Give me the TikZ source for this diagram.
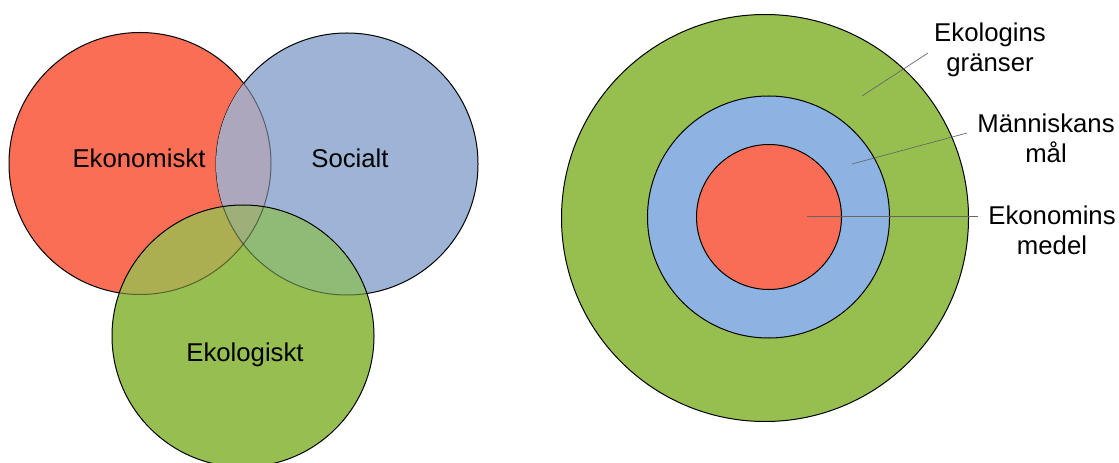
\documentclass[tikz,border=0pt]{standalone}
\usepackage{fontspec}
\setmainfont{Liberation Sans}

\definecolor{ekored}{RGB}{250,110,85}
\definecolor{socblue}{RGB}{157,180,214}
\definecolor{ekogreen}{RGB}{150,190,80}
\definecolor{redblue}{RGB}{173,167,189}
\definecolor{redgreen}{RGB}{172,174,82}
\definecolor{bluegreen}{RGB}{143,187,118}
\definecolor{allthree}{RGB}{157,176,122}
\definecolor{ringgreen}{RGB}{150,191,79}
\definecolor{ringblue}{RGB}{141,179,226}
\definecolor{ringred}{RGB}{249,109,86}

\begin{document}
\begin{tikzpicture}[
        x=0.75pt, y=-0.75pt,
        every node/.style={font=\fontsize{19.3}{22.5}\selectfont, inner sep=0pt},
        rim/.style={draw=black, line width=0.75pt},
        faintrim/.style={draw=black, draw opacity=0.45, line width=0.75pt},
        leader/.style={draw=black!60, line width=0.5pt}
    ]
      \useasboundingbox (0,0) rectangle (1119,463);

      % Venn diagram
      \coordinate (eko) at (140,163.5);
      \coordinate (soc) at (347,164);
      \coordinate (ekol) at (243,336);
      \def\vennr{131}

      \filldraw[rim, fill=ekored] (eko) circle[radius=\vennr];
      \filldraw[rim, fill=socblue] (soc) circle[radius=\vennr];
      \begin{scope}
        \clip (soc) circle[radius=\vennr];
        \fill[redblue] (eko) circle[radius=\vennr];
        \draw[faintrim] (eko) circle[radius=\vennr];
      \end{scope}
      \fill[ekogreen] (ekol) circle[radius=\vennr];
      \begin{scope}
        \clip (ekol) circle[radius=\vennr];
        \fill[redgreen] (eko) circle[radius=\vennr];
        \fill[bluegreen] (soc) circle[radius=\vennr];
        \begin{scope}
          \clip (eko) circle[radius=\vennr];
          \fill[allthree] (soc) circle[radius=\vennr];
        \end{scope}
        \draw[faintrim] (eko) circle[radius=\vennr];
        \draw[faintrim] (soc) circle[radius=\vennr];
      \end{scope}
      \draw[rim] (ekol) circle[radius=\vennr];

      \node[anchor=base] (ekonomiskt) at (139,167.3) {Ekonomiskt};
      \node[anchor=base] (socialt) at (350,167.3) {Socialt};
      \node[anchor=base] (ekologiskt) at (245,361.7) {Ekologiskt};

      % Concentric circles
      \filldraw[rim, fill=ringgreen] (765,218) circle[radius=203.5];
      \filldraw[rim, fill=ringblue] (768.5,217) circle[radius=121];
      \filldraw[rim, fill=ringred] (769,217) circle[radius=72.5];

      \node[anchor=north, align=center] (granser) at (990,23) {Ekologins\\gränser};
      \node[anchor=north, align=center] (mal) at (1046,113.3) {Människans\\mål};
      \node[anchor=north, align=center] (medel) at (1052,205.7) {Ekonomins\\medel};

      % Leader lines
      \coordinate (granser-in) at (862,96);
      \coordinate (granser-out) at (928,53);
      \coordinate (mal-in) at (852,164);
      \coordinate (mal-out) at (967,133);
      \coordinate (medel-in) at (807,216);
      \coordinate (medel-out) at (978,216);
      \draw[leader] (granser-in) -- (granser-out);
      \draw[leader] (mal-in) -- (mal-out);
      \draw[leader] (medel-in) -- (medel-out);
    \end{tikzpicture}
\end{document}
